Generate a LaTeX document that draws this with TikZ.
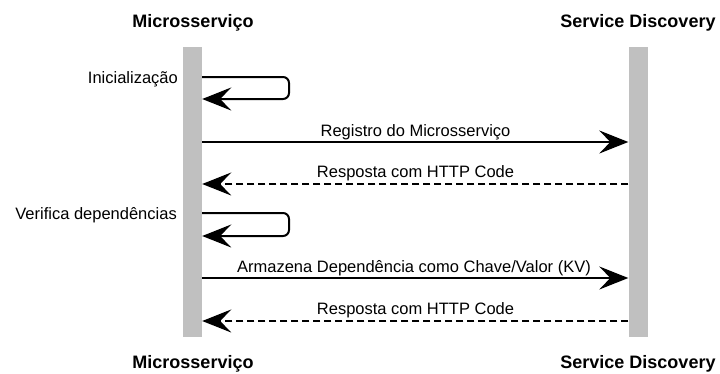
\documentclass[tikz,border=0pt]{standalone}
\usepackage{fontspec}
\setmainfont{Liberation Sans}
\usetikzlibrary{arrows.meta}
\begin{document}
\begin{tikzpicture}[x=1pt,y=-1pt,
  lifeline/.style={fill={rgb,255:red,192;green,192;blue,192},draw=none,minimum width=19pt,minimum height=290pt,inner sep=0pt,anchor=north},
  header/.style={font=\fontsize{18}{20}\selectfont\bfseries,anchor=base,inner sep=0pt},
  msglabel/.style={font=\fontsize{16.5}{19}\selectfont,anchor=base,inner sep=0pt},
  notelabel/.style={font=\fontsize{16.5}{19}\selectfont,anchor=base east,inner sep=0pt},
  msg/.style={line width=2pt,-{Stealth[length=29pt,width=23pt,inset=11pt]}},
  reply/.style={msg,dash pattern=on 7pt off 4pt},
  selfloop/.style={msg,rounded corners=6pt}]
\useasboundingbox (0,0) rectangle (720,373);

% lifelines
\node[lifeline] (ms) at (192.5,47) {};
\node[lifeline] (sd) at (638,47) {};

% headers and footers
\node[header] (msTop) at (193,27) {Microsserviço};
\node[header] (sdTop) at (638,27) {Service Discovery};
\node[header] (msBot) at (193,368) {Microsserviço};
\node[header] (sdBot) at (638,368) {Service Discovery};

% message anchor points on the lifelines
\coordinate (m1) at (ms.north east |- 0,142);
\coordinate (s1) at (sd.north west |- 0,142);
\coordinate (m2) at (ms.north east |- 0,184);
\coordinate (s2) at (sd.north west |- 0,184);
\coordinate (m3) at (ms.north east |- 0,278);
\coordinate (s3) at (sd.north west |- 0,278);
\coordinate (m4) at (ms.north east |- 0,321);
\coordinate (s4) at (sd.north west |- 0,321);

% self calls
\coordinate (i1) at (ms.north east |- 0,77);
\coordinate (i2) at (ms.north east |- 0,99);
\coordinate (v1) at (ms.north east |- 0,213);
\coordinate (v2) at (ms.north east |- 0,236);
\node[notelabel] (lInit) at (178,83) {Inicialização};
\draw[selfloop] (i1) -- (289,77) -- (289,99) -- (i2);
\node[notelabel] (lVer) at (177,219) {Verifica dependências};
\draw[selfloop] (v1) -- (289,213) -- (289,236) -- (v2);

% messages
\draw[msg] (m1) -- (s1);
\node[msglabel] (l1) at (415.5,136) {Registro do Microsserviço};
\draw[reply] (s2) -- (m2);
\node[msglabel] (l2) at (415.5,177) {Resposta com HTTP Code};
\draw[msg] (m3) -- (s3);
\node[msglabel] (l3) at (414,272) {Armazena Dependência como Chave/Valor (KV)};
\draw[reply] (s4) -- (m4);
\node[msglabel] (l4) at (415.5,314) {Resposta com HTTP Code};
\end{tikzpicture}
\end{document}
